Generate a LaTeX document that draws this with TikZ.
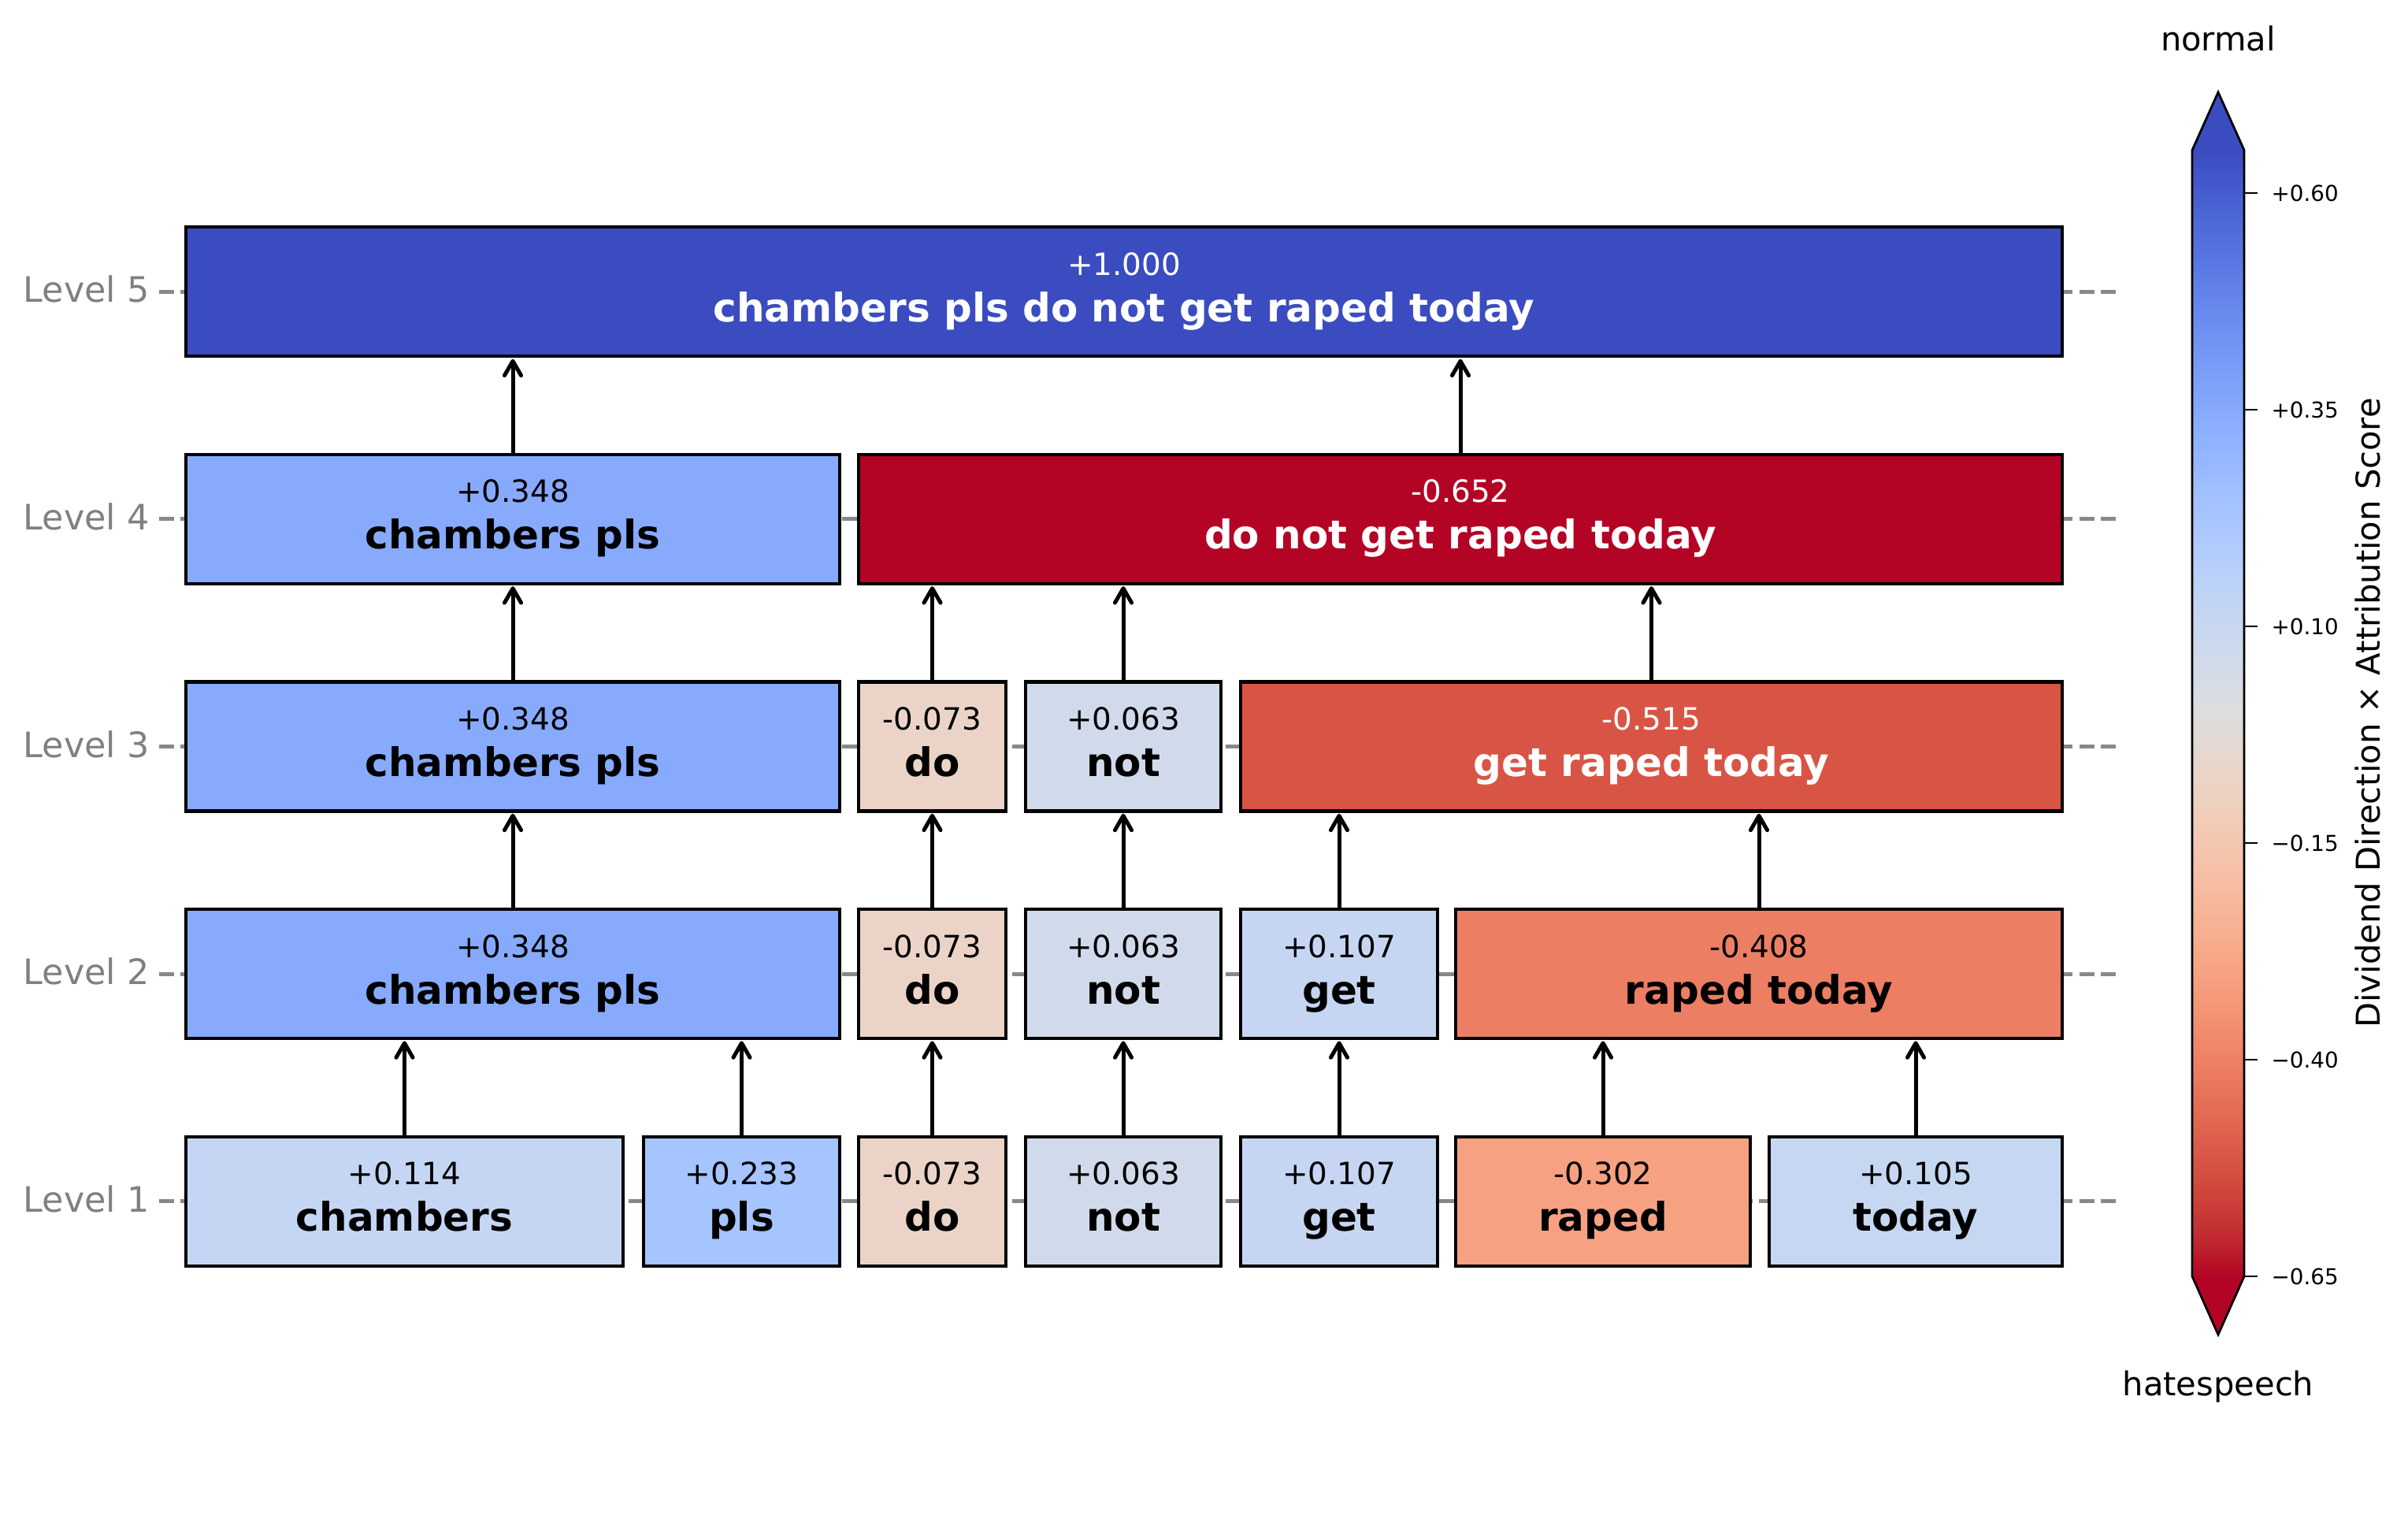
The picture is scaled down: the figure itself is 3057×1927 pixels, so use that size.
\documentclass[tikz,border=0pt]{standalone}
\usepackage{fontspec}
\setmainfont{DejaVu Sans}
\usetikzlibrary{arrows.meta}

% coolwarm colormap stops
\definecolor{cw0}{RGB}{59,76,192}
\definecolor{cw1}{RGB}{68,90,204}
\definecolor{cw2}{RGB}{77,104,215}
\definecolor{cw3}{RGB}{87,117,225}
\definecolor{cw4}{RGB}{98,130,234}
\definecolor{cw5}{RGB}{108,142,241}
\definecolor{cw6}{RGB}{119,154,247}
\definecolor{cw7}{RGB}{130,165,251}
\definecolor{cw8}{RGB}{141,176,254}
\definecolor{cw9}{RGB}{152,185,255}
\definecolor{cw10}{RGB}{163,194,255}
\definecolor{cw11}{RGB}{174,201,253}
\definecolor{cw12}{RGB}{184,208,249}
\definecolor{cw13}{RGB}{194,213,244}
\definecolor{cw14}{RGB}{204,217,238}
\definecolor{cw15}{RGB}{213,219,230}
\definecolor{cw16}{RGB}{221,221,221}
\definecolor{cw17}{RGB}{229,216,209}
\definecolor{cw18}{RGB}{236,211,197}
\definecolor{cw19}{RGB}{241,204,184}
\definecolor{cw20}{RGB}{245,196,173}
\definecolor{cw21}{RGB}{247,187,160}
\definecolor{cw22}{RGB}{247,177,148}
\definecolor{cw23}{RGB}{247,166,135}
\definecolor{cw24}{RGB}{244,154,123}
\definecolor{cw25}{RGB}{241,141,111}
\definecolor{cw26}{RGB}{236,127,99}
\definecolor{cw27}{RGB}{229,112,89}
\definecolor{cw28}{RGB}{222,96,77}
\definecolor{cw29}{RGB}{213,80,66}
\definecolor{cw30}{RGB}{203,62,56}
\definecolor{cw31}{RGB}{192,40,47}
\definecolor{cw32}{RGB}{180,4,38}

% box colours
\definecolor{cA}{RGB}{59,76,192}
\definecolor{cB}{RGB}{135,170,252}
\definecolor{cC}{RGB}{180,4,38}
\definecolor{cD}{RGB}{235,212,199}
\definecolor{cE}{RGB}{208,218,234}
\definecolor{cF}{RGB}{216,85,70}
\definecolor{cG}{RGB}{198,214,242}
\definecolor{cH}{RGB}{236,126,99}
\definecolor{cI}{RGB}{196,214,243}
\definecolor{cJ}{RGB}{166,196,254}
\definecolor{cK}{RGB}{246,161,130}
\definecolor{cL}{RGB}{198,215,241}
\definecolor{lvlgray}{RGB}{128,128,128}
\definecolor{dashgray}{RGB}{136,136,136}

\pgfdeclareverticalshading{cwshade}{100bp}{%
color(0bp)=(cw32); color(25bp)=(cw32); color(26.5625bp)=(cw31); color(28.125bp)=(cw30);
color(29.6875bp)=(cw29); color(31.25bp)=(cw28); color(32.8125bp)=(cw27); color(34.375bp)=(cw26);
color(35.9375bp)=(cw25); color(37.5bp)=(cw24); color(39.0625bp)=(cw23); color(40.625bp)=(cw22);
color(42.1875bp)=(cw21); color(43.75bp)=(cw20); color(45.3125bp)=(cw19); color(46.875bp)=(cw18);
color(48.4375bp)=(cw17); color(50bp)=(cw16); color(51.5625bp)=(cw15); color(53.125bp)=(cw14);
color(54.6875bp)=(cw13); color(56.25bp)=(cw12); color(57.8125bp)=(cw11); color(59.375bp)=(cw10);
color(60.9375bp)=(cw9); color(62.5bp)=(cw8); color(64.0625bp)=(cw7); color(65.625bp)=(cw6);
color(67.1875bp)=(cw5); color(68.75bp)=(cw4); color(70.3125bp)=(cw3); color(71.875bp)=(cw2);
color(73.4375bp)=(cw1); color(75bp)=(cw0); color(100bp)=(cw0)}

\tikzset{
  tok/.style={draw=black, line width=1.5pt, rectangle, inner sep=0pt, outer sep=0pt, minimum height=59.04pt},
  val/.style={anchor=base, inner sep=0pt, font=\fontsize{14}{17}\selectfont},
  wrd/.style={anchor=base, inner sep=0pt, font=\fontsize{18}{22}\selectfont\bfseries},
  arr/.style={-{Straight Barb[length=6.6pt,width=7.6pt,round]}, line width=1.8pt, shorten >=1.2pt},
  lvl/.style={anchor=east, inner sep=0pt, text=lvlgray, font=\fontsize{16}{19}\selectfont},
  gridline/.style={draw=dashgray, line width=1.8pt, dash pattern=on 6.84pt off 2.91pt},
  ticklab/.style={anchor=west, inner sep=0pt, font=\fontsize{10}{12}\selectfont},
  cbtext/.style={inner sep=0pt, font=\fontsize{15}{18}\selectfont},
}

% #1 name, #2 x1, #3 x2, #4 yc, #5 fill, #6 text colour, #7 value, #8 word
\newcommand{\tokbox}[8]{%
  \node[tok, fill=#5, minimum width={(#3-#2)*0.36pt}] (#1) at ({(#2+#3)/2},#4) {};
  \node[val, text=#6] (#1v) at ({(#2+#3)/2},#4-21) {#7};
  \node[wrd, text=#6] (#1w) at ({(#2+#3)/2},#4+38) {#8};
}

\begin{document}
\begin{tikzpicture}[x=0.36pt, y=-0.36pt]
\path[use as bounding box, fill=white] (0,0) rectangle (3057,1927);

% level guide lines and labels
\foreach \yy/\lab/\nm in {370.4/5/l5, 658.9/4/l4, 947.5/3/l3, 1236.1/2/l2, 1524.6/1/l1}{
  \draw[gridline] (202,\yy) -- (2686,\yy);
  \node[lvl] (\nm) at (190,\yy-3) {Level \lab};
}

% Level 1
\tokbox{a1}{236}{791}{1524.6}{cI}{black}{+0.114}{chambers}
\tokbox{b1}{817}{1066}{1524.6}{cJ}{black}{+0.233}{pls}
\tokbox{c1}{1090}{1277}{1524.6}{cD}{black}{-0.073}{do}
\tokbox{d1}{1302}{1550}{1524.6}{cE}{black}{+0.063}{not}
\tokbox{e1}{1575}{1825}{1524.6}{cG}{black}{+0.107}{get}
\tokbox{f1}{1848}{2222}{1524.6}{cK}{black}{-0.302}{raped}
\tokbox{g1}{2246}{2618}{1524.6}{cL}{black}{+0.105}{today}
% Level 2
\tokbox{ab2}{236}{1066}{1236.1}{cB}{black}{+0.348}{chambers pls}
\tokbox{c2}{1090}{1277}{1236.1}{cD}{black}{-0.073}{do}
\tokbox{d2}{1302}{1550}{1236.1}{cE}{black}{+0.063}{not}
\tokbox{e2}{1575}{1825}{1236.1}{cG}{black}{+0.107}{get}
\tokbox{fg2}{1848}{2618}{1236.1}{cH}{black}{-0.408}{raped today}
% Level 3
\tokbox{ab3}{236}{1066}{947.5}{cB}{black}{+0.348}{chambers pls}
\tokbox{c3}{1090}{1277}{947.5}{cD}{black}{-0.073}{do}
\tokbox{d3}{1302}{1550}{947.5}{cE}{black}{+0.063}{not}
\tokbox{efg3}{1575}{2618}{947.5}{cF}{white}{-0.515}{get raped today}
% Level 4
\tokbox{ab4}{236}{1066}{658.9}{cB}{black}{+0.348}{chambers pls}
\tokbox{cg4}{1090}{2618}{658.9}{cC}{white}{-0.652}{do not get raped today}
% Level 5
\tokbox{all5}{236}{2618}{370.4}{cA}{white}{+1.000}{chambers pls do not get raped today}

% arrows
\foreach \c/\p in {a1/ab2, b1/ab2, c1/c2, d1/d2, e1/e2, f1/fg2, g1/fg2,
                   ab2/ab3, c2/c3, d2/d3, e2/efg3, fg2/efg3,
                   ab3/ab4, c3/cg4, d3/cg4, efg3/cg4,
                   ab4/all5, cg4/all5}{
  \draw[arr] (\c.north) -- (\p.south -| \c.north);
}

% colour bar
\fill[cw0] (2783,190.6) -- (2816,117) -- (2849,190.6) -- cycle;
\fill[cw32] (2783,1620) -- (2816,1694) -- (2849,1620) -- cycle;
\shade[shading=cwshade] (2783,190.6) rectangle (2849,1620);
\draw[line width=1pt, line join=miter] (2783,190.6) -- (2816,117) -- (2849,190.6)
  -- (2849,1620) -- (2816,1694) -- (2783,1620) -- cycle;
\foreach \yy/\lab/\nm in {245/+0.60/t1, 520/+0.35/t2, 795/+0.10/t3, 1070/−0.15/t4, 1345/−0.40/t5, 1620/−0.65/t6}{
  \draw[line width=1pt] (2849,\yy) -- (2866,\yy);
  \node[ticklab] (\nm) at (2883,\yy) {\lab};
}
\node[cbtext] (cbnormal) at (2816,49) {normal};
\node[cbtext] (cbhate) at (2816,1760) {hatespeech};
\node[cbtext, rotate=90] (cblabel) at (3006,905) {Dividend Direction × Attribution Score};
\end{tikzpicture}
\end{document}
